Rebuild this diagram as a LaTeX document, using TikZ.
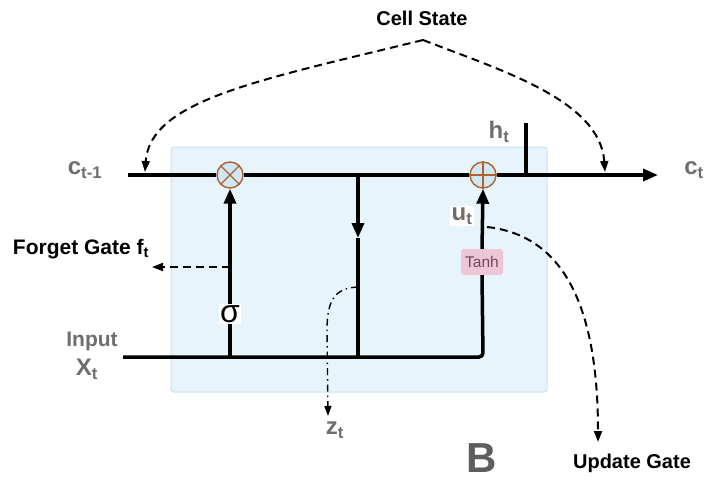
\documentclass[tikz,border=0pt]{standalone}
\usepackage{fontspec}
\setmainfont{Liberation Sans}
\usetikzlibrary{arrows.meta}
\definecolor{boxblue}{HTML}{E8F4FC}
\definecolor{boxedge}{HTML}{C6E2F3}
\definecolor{gateblue}{HTML}{CFE7F6}
\definecolor{gatebrown}{HTML}{B0622A}
\definecolor{tanhpink}{HTML}{EEC6D6}
\definecolor{tanhtext}{HTML}{6A4A5C}
\definecolor{labelgrey}{HTML}{6E6E6E}
\tikzset{
  mainline/.style={line width=3.5pt},
  bigtip/.style={-{Triangle[length=15pt,width=12pt]}},
  dashline/.style={line width=2pt, dash pattern=on 8pt off 5pt, -{Triangle[length=11pt,width=8pt]}},
  dotline/.style={line width=1.4pt, dash pattern=on 7pt off 4pt on 1.5pt off 4pt, -{Triangle[length=10pt,width=7pt]}},
  gate/.style={circle, draw=gatebrown, fill=gateblue, line width=1.4pt, minimum size=26pt, inner sep=0pt},
  greylabel/.style={text=labelgrey, font=\fontsize{24}{24}\selectfont\bfseries},
  blacklabel/.style={font=\fontsize{20}{20}\selectfont\bfseries},
}

\begin{document}
\begin{tikzpicture}[x=1pt,y=-1pt]
\useasboundingbox (0,0) rectangle (708,479);
%cell box
\draw [fill=boxblue, draw=boxedge, line width=1pt, rounded corners=3pt] (171,147) rectangle (547,392);

%gates and points
\node [gate] (mul) at (230,175) {}; \node [gate] (add) at (483,175) {};
\draw [gatebrown, line width=1.4pt] (mul.north west)--(mul.south east) (mul.north east)--(mul.south west);
\draw [gatebrown, line width=1.4pt] (add.north)--(add.south) (add.west)--(add.east);
\coordinate (cin) at (128,175); \coordinate (cout) at (658,175); \coordinate (hjoin) at (526,175); \coordinate (htop) at (526,123);
\coordinate (split) at (358,175); \coordinate (splitmid) at (358,238); \coordinate (splitbot) at (358,357);
\coordinate (xin) at (123,357); \coordinate (sigbot) at (230,357); \coordinate (corner) at (483,357);
\node [fill=tanhpink, text=tanhtext, rounded corners=3pt, minimum width=42pt, minimum height=26pt, inner sep=0pt, font=\fontsize{15.5}{15.5}\selectfont] (tanh) at (482,262) {Tanh};
\node [fill=white, inner sep=1pt, font=\fontsize{32}{32}\selectfont] (sig) at (230,314) {σ};

%main lines
\draw [mainline] (cin)--(mul.west); \draw [mainline] (mul.east)--(add.west); \draw [mainline,bigtip] (add.east)--(cout); \draw [mainline] (hjoin)--(htop);
\draw [mainline,bigtip] (split)--(splitmid); \draw [mainline] (splitmid)--(splitbot);
\draw [mainline, rounded corners=4pt] (xin)--(corner)--(tanh.south); \draw [mainline,bigtip] (tanh.north)--(add.south);
\draw [mainline] (sigbot)--(sig.south); \draw [mainline,bigtip] (sig.north)--(mul.south);

%labels
\node [greylabel] (cprev) at (85,170) {c\textsubscript{t-1}};
\node [greylabel] (cnext) at (694,170) {c\textsubscript{t}};
\node [greylabel] (ht) at (499,132) {h\textsubscript{t}};
\node [greylabel, fill=white, inner sep=2pt] (ut) at (462,216) {u\textsubscript{t}};
\node [greylabel, font=\fontsize{21}{21}\selectfont\bfseries] (inp) at (92,341) {Input};
\node [greylabel] (xt) at (87,369) {X\textsubscript{t}};
\node [greylabel] (zt) at (335,430) {z\textsubscript{t}};
\node [blacklabel] (cell) at (422,18) {Cell State};
\node [blacklabel, font=\fontsize{21}{21}\selectfont\bfseries] (forget) at (81,249) {Forget Gate f\textsubscript{t}};
\node [blacklabel] (update) at (632,463) {Update Gate};
\node [text=labelgrey!85!black, inner sep=0pt, font=\fontsize{42}{42}\selectfont\bfseries] (bmark) at (482,458) {B};

%dashed arrows
\coordinate (apex) at (423,40); \coordinate (cleft) at (145,172); \coordinate (cright) at (605,172);
\draw [dashline] (apex) .. controls (260,80) and (150,100) .. (cleft);
\draw [dashline] (apex) .. controls (500,70) and (600,100) .. (cright);
\coordinate (fg) at (230,267); \coordinate (fgend) at (152,267);
\draw [dashline] (fg)--(fgend);
\coordinate (ustart) at (487,227); \coordinate (uend) at (598,442);
\draw [dashline] (ustart) .. controls (560,235) and (598,300) .. (uend);
\coordinate (zstart) at (358,287); \coordinate (zbend) at (327,330); \coordinate (zend) at (328,416);
\draw [dotline] (zstart) .. controls (335,288) and (327,300) .. (zbend) -- (zend);

\end{tikzpicture}
\end{document}
